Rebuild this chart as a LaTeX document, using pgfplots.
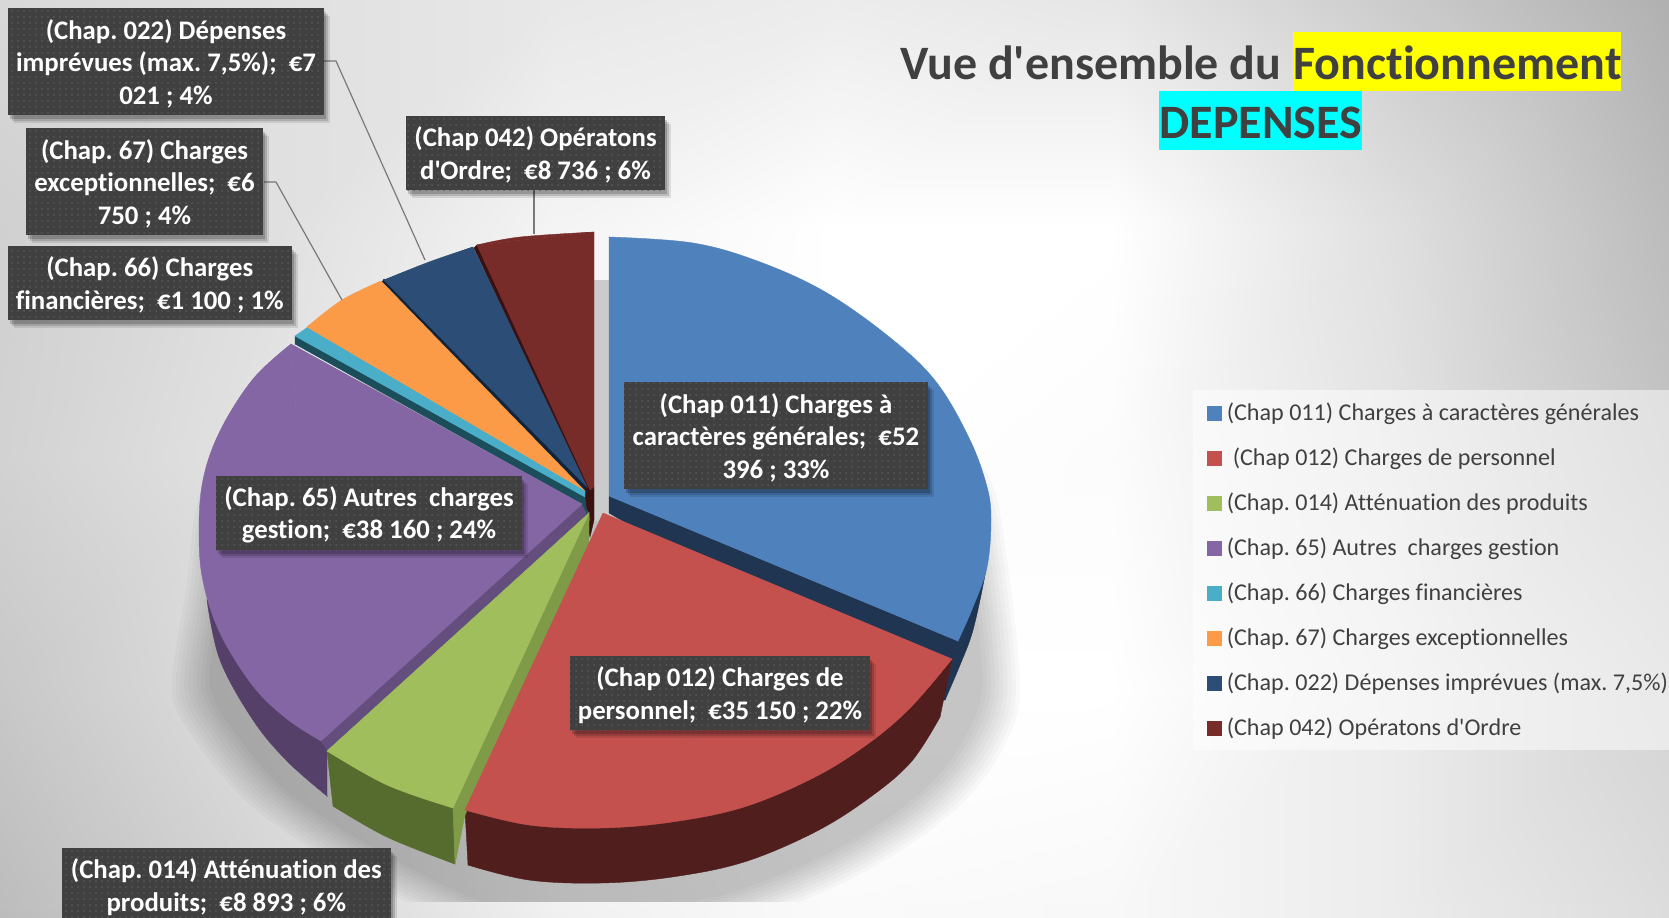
\documentclass[border=0pt]{standalone}
\usepackage{fontspec}
\setmainfont{Carlito}[Ligatures={TeXOff,NoCommon}]
\usepackage{pgfplots}
\usepackage{pgfplotstable}
\pgfplotsset{compat=1.18}
\usetikzlibrary{shadows,patterns}

\definecolor{cblue}{HTML}{4F81BD}
\definecolor{cblues}{HTML}{1F3552}
\definecolor{cred}{HTML}{C4514E}
\definecolor{creds}{HTML}{4F1E1D}
\definecolor{cgreen}{HTML}{A0BE5B}
\definecolor{cgreenc}{HTML}{7F9B47}
\definecolor{cgreens}{HTML}{566B2E}
\definecolor{cpurple}{HTML}{8466A4}
\definecolor{cpurplec}{HTML}{644E7E}
\definecolor{cpurples}{HTML}{544068}
\definecolor{ccyan}{HTML}{4AAEC8}
\definecolor{ccyans}{HTML}{1C4D5A}
\definecolor{corange}{HTML}{FB9A47}
\definecolor{cnavy}{HTML}{2C4D75}
\definecolor{cnavys}{HTML}{10243C}
\definecolor{cdred}{HTML}{772C2A}
\definecolor{cdreds}{HTML}{3A1010}
\definecolor{labbg}{HTML}{404040}
\definecolor{labdot}{HTML}{585858}
\definecolor{txt}{HTML}{404040}
\definecolor{hlyellow}{HTML}{FFFF00}
\definecolor{hlcyan}{HTML}{00FFFF}
\definecolor{gapgrey}{HTML}{CBCBCB}

% background greys, picture coordinates
\pgfplotstableread{
x y c
0 0 216
278 0 224
556 0 232
834 0 236
1112 0 230
1390 0 204
1669 0 176
0 229 208
278 229 224
556 229 244
834 229 255
1112 229 255
1390 229 224
1669 229 188
0 458 210
278 458 228
556 458 245
834 458 255
1112 458 252
1390 458 228
1669 458 196
0 688 200
278 688 224
556 688 244
834 688 255
1112 688 255
1390 688 236
1669 688 212
0 917 188
278 917 212
556 917 240
834 917 250
1112 917 248
1390 917 236
1669 917 220
}\bgtable

\pgfplotstableread{
x y c
0 902 190
278 902 213
556 902 241
834 902 250
1112 902 248
1390 902 236
1669 902 220
0 917 188
278 917 212
556 917 240
834 917 250
1112 917 248
1390 917 236
1669 917 220
}\bgstrip

\pgfplotstableread{
x y
609 340
760 310
880 380
980 470
1003 560
1016 690
1000 745
965 795
910 840
830 885
720 925
600 935
480 930
400 895
320 850
250 800
200 740
176 690
190 590
210 480
300 400
450 350
}\shadowpts

\pgfplotsset{
  face/.style={fill=#1,draw=#1,line width=.2pt,forget plot},
  arcface/.style={face=#1,smooth,tension=.6},
  key/.style={fill=#1,draw=#1,line width=.2pt},
  conn/.style={draw=gray!95!black,line width=.6pt,forget plot},
}
\tikzset{
  labbox/.style={fill=labbg,inner sep=0pt,
    general shadow={shadow xshift=3pt,shadow yshift=-4pt,fill=black,opacity=.1},
    general shadow={shadow xshift=2.2pt,shadow yshift=-3pt,fill=black,opacity=.14},
    general shadow={shadow xshift=1.2pt,shadow yshift=-1.8pt,fill=black,opacity=.18},
    postaction={pattern=dots,pattern color=labdot}},
  labtxt/.style={text=white,align=center,inner sep=0pt,yshift=-1pt,
    font=\fontsize{13.4}{16.25}\selectfont\bfseries},
  ttl/.style={anchor=base west,inner sep=0pt,text=txt,font=\fontsize{24}{29}\selectfont\bfseries},
}
\newcommand{\lab}[5]{%
  \node[labbox,minimum width=#3pt,minimum height=#4pt] at (axis cs:#1,#2) {};
  \node[labtxt] at (axis cs:#1,#2) {#5};
}

\begin{document}
\frenchspacing
\begin{tikzpicture}
\useasboundingbox (0,0) rectangle (834.5pt,458.5pt);
\clip (0,0) rectangle (834.5pt,458.5pt);
\begin{axis}[
  at={(0,0)},anchor=south west,
  scale only axis,width=834.5pt,height=458.5pt,
  xmin=0,xmax=1669,ymin=0,ymax=917,y dir=reverse,
  hide axis,no markers,clip=false,
  colormap={bwg}{gray(0cm)=(0); gray(1cm)=(1)},
  point meta min=0,point meta max=255,
  legend cell align=left,
  legend image code/.code={\path[#1,fill opacity=1,draw opacity=1] (0pt,-3.5pt) rectangle (7pt,3.5pt);},
  legend style={at={(axis cs:1193,390)},anchor=north west,
    fill=white,fill opacity=.5,text opacity=1,draw=none,
    inner xsep=7pt,inner ysep=0pt,row sep=0pt,
    font=\fontsize{12.05}{14}\selectfont,text=txt,
    nodes={minimum height=22.5pt,inner ysep=0pt,inner xsep=2.5pt}},
]
\addplot[surf,shader=interp,mesh/cols=7,point meta=explicit,forget plot] table[meta=c] {\bgtable};

% soft shadow under the pie, nested copies of one outline
\pgfplotsinvokeforeach{1.01,1.00,.99,.98,.97,.96,.95,.94,.93,.92}{
  \addplot[fill=black,draw=none,fill opacity=.025,smooth,forget plot,
    x filter/.expression={595+(x-595)*#1},y filter/.expression={590+(y-590)*#1}] table {\shadowpts} --cycle;
}
\addplot[surf,shader=interp,mesh/cols=7,point meta=explicit,forget plot] table[meta=c] {\bgstrip};
\addplot[face=gapgrey] coordinates {(590,280) (612,280) (612,520) (590,520)} --cycle;

% side walls
\addplot[face=cblues] coordinates {(609,496) (958,641) (945,700) (935,700) (609,513)} --cycle;
\addplot[face=cblues] coordinates {(989,545) (945,700) (958,641)} --cycle;
\addplot[arcface=cblues] coordinates {(989,545) (985,575) (973,630) (960,665) (945,700)} --cycle;
\addplot[face=creds] coordinates {(465,810) (952,659) (940,717) (468,865)} --cycle;
\addplot[arcface=creds] coordinates {(468,865) (529,880) (601,883) (672,877) (744,862) (815,832) (869,798) (911,762) (940,717)} --cycle;
\addplot[face=cdreds] coordinates {(583,488) (594,487) (594,520) (590,537) (585,516)} --cycle;
\addplot[face=cpurples] coordinates {(207,600) (321,741) (327,749) (327,796)} --cycle;
\addplot[arcface=cpurples] coordinates {(207,600) (220,660) (253,720) (287,761) (327,796)} --cycle;
\addplot[face=cpurplec] coordinates {(321,741) (582,504) (589,513) (590,520) (331,756)} --cycle;
\addplot[face=cgreens] coordinates {(327,751) (453,808) (455,864) (333,806)} --cycle;
\addplot[arcface=cgreens] coordinates {(333,806) (387,837) (455,864)} --cycle;
\addplot[face=cgreenc] coordinates {(453,808) (589,513) (589,545) (465,815) (455,864)} --cycle;
\addplot[face=ccyans] coordinates {(295,336) (585,497) (587,514) (582,504) (295,344)} --cycle;
\addplot[face=cnavys] coordinates {(382,282) (384,279) (589,487) (586,493)} --cycle;
\addplot[face=cdreds] coordinates {(474,248) (477,245) (590,488) (588,492)} --cycle;

% top faces, one keyed plot per slice
\addplot[arcface=cblue] coordinates {(609,237) (693,243) (760,262) (827,293) (893,340) (937,383) (970,440) (987,487) (991,520) (987,567) (973,607) (958,641)} --cycle;
\addplot[key=cblue] coordinates {(609,496) (609,237) (958,641)} --cycle;
\addlegendentry{(Chap 011) Charges à caractères générales}
\addplot[arcface=cred] coordinates {(465,810) (529,825) (601,828) (672,822) (744,807) (815,777) (869,743) (911,707) (952,659)} --cycle;
\addplot[key=cred] coordinates {(603,513) (952,659) (465,810)} --cycle;
\addlegendentry{\hspace{3pt}(Chap 012) Charges de personnel}
\addplot[arcface=cgreen] coordinates {(327,751) (387,785) (453,808)} --cycle;
\addplot[key=cgreen] coordinates {(589,513) (327,751) (453,808)} --cycle;
\addlegendentry{(Chap. 014) Atténuation des produits}
\addplot[arcface=cpurple] coordinates {(291,344) (253,379) (220,431) (203,480) (199,532) (203,581) (220,633) (253,686) (287,719) (321,741)} --cycle;
\addplot[key=cpurple] coordinates {(582,504) (291,344) (321,741)} --cycle;
\addlegendentry{(Chap. 65) Autres\ \ charges gestion}
\addplot[key=ccyan] coordinates {(295,336) (308,327) (585,491) (585,497)} --cycle;
\addlegendentry{(Chap. 66) Charges financières}
\addplot[arcface=corange] coordinates {(307,327) (342,300) (381,281)} --cycle;
\addplot[key=corange] coordinates {(584,490) (307,327) (381,281)} --cycle;
\addlegendentry{(Chap. 67) Charges exceptionnelles}
\addplot[arcface=cnavy] coordinates {(384,280) (429,262) (473,247)} --cycle;
\addplot[key=cnavy] coordinates {(587,487) (384,280) (473,247)} --cycle;
\addlegendentry{(Chap. 022) Dépenses imprévues (max. 7,5\%)}
\addplot[arcface=cdred] coordinates {(477,245) (520,237) (594,232)} --cycle;
\addplot[key=cdred] coordinates {(594,232) (594,487) (590,490) (477,245)} --cycle;
\addlegendentry{(Chap 042) Opératons d'Ordre}

% leader lines
\addplot[conn] coordinates {(324,61) (336,61) (425,260)};
\addplot[conn] coordinates {(264,182) (276,182) (342,300)};
\addplot[conn] coordinates {(534,190) (534,234)};

% title highlights
\fill[hlyellow] (axis cs:1293,32) rectangle (axis cs:1621,91);
\fill[hlcyan] (axis cs:1159,91) rectangle (axis cs:1362,150);
\node[ttl] at (axis cs:900,79) {Vue d'ensemble du};
\node[ttl] at (axis cs:1293,79) {Fonctionnement};
\node[ttl] at (axis cs:1159,138) {DEPENSES};

% data labels
\lab{166}{61.5}{158}{53.5}{(Chap. 022) Dépenses\\imprévues (max. 7,5\%);\ \ €7\\021 ; 4\%}
\lab{144.5}{181.5}{118.5}{53.5}{(Chap. 67) Charges\\exceptionnelles;\ \ €6\\750 ; 4\%}
\lab{149.75}{283}{141.75}{37}{(Chap. 66) Charges\\financières;\ \ €1 100 ; 1\%}
\lab{535.5}{153}{129.5}{37}{(Chap 042) Opératons\\d'Ordre;\ \ €8 736 ; 6\%}
\lab{776}{435.5}{152}{53.5}{(Chap 011) Charges à\\caractères générales;\ \ €52\\396 ; 33\%}
\lab{720}{693}{150}{37}{(Chap 012) Charges de\\personnel;\ \ €35 150 ; 22\%}
\lab{369}{513}{153}{37}{(Chap. 65) Autres\ \ charges\\gestion;\ \ €38 160 ; 24\%}
\lab{226.3}{885}{164.3}{37}{(Chap. 014) Atténuation des\\produits;\ \ €8 893 ; 6\%}
\end{axis}
\end{tikzpicture}
\end{document}
